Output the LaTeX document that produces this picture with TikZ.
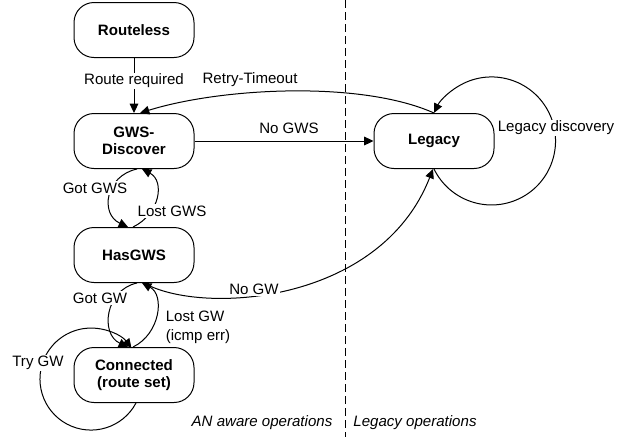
\documentclass[tikz,border=0pt]{standalone}
\usepackage{fontspec}
\setmainfont{Liberation Sans}
\usetikzlibrary{arrows.meta,calc}
\begin{document}
\begin{tikzpicture}[x=0.75pt,y=0.75pt,
  state/.style={draw,line width=0.75pt,rounded corners=15pt,minimum width=90pt,minimum height=41.25pt,inner sep=0pt,align=center,font=\fontsize{11.3}{12.8}\selectfont\bfseries},
  arr/.style={line width=0.75pt,-{Triangle[length=7pt,width=6.5pt]}},
  conn/.style={line width=0.75pt},
  lbl/.style={font=\fontsize{11.3}{14}\selectfont,inner sep=1pt},
  cover/.style={lbl,fill=white},
  zone/.style={font=\fontsize{11.3}{13}\selectfont\itshape,inner sep=1pt}]
\useasboundingbox (0,0) rectangle (634,-437);
% divider
\draw[line width=0.75pt,dash pattern=on 6pt off 3pt] (345.7,0) coordinate (dtop) -- (345.7,-437) coordinate (dbot);
% states
\node[state] (rl) at (134,-30) {Routeless};
\node[state] (gws) at (134,-141) {GWS-\\Discover};
\node[state] (has) at (134,-255) {HasGWS};
\node[state] (con) at (134,-375) {Connected\\(route set)};
\node[state] (leg) at (434,-141) {Legacy};
% transitions
\draw[arr] (rl.south) -- (gws.north);
\draw[arr] (leg.north) .. controls (360,-80) and (220,-88) .. ($(gws.north)+(6,0)$);
\draw[arr] (gws.east) -- (leg.west);
\draw[arr] (leg.south) arc[start angle=206,end angle=514,radius=48pt];
\draw[arr] ($(gws.south)+(3,0)$) .. controls ($(gws.south)+(-29,-7)$) and ($(has.north)+(-34,13)$) .. ($(has.north)+(-6,0)$);
\draw[arr] ($(has.north)+(-1,0)$) .. controls ($(has.north)+(26,13)$) and ($(gws.south)+(31,-12)$) .. ($(gws.south)+(8,0)$);
\draw[arr] ($(has.south)+(3,0)$) .. controls ($(has.south)+(-29,-7)$) and ($(con.north)+(-34,13)$) .. ($(con.north)+(-6,0)$);
\draw[arr] ($(con.north)+(-1,0)$) .. controls ($(con.north)+(26,13)$) and ($(has.south)+(31,-12)$) .. ($(has.south)+(8,0)$);
\draw[arr] ($(has.south)+(10,0)$) .. controls (200,-315) and (380,-305) .. ($(leg.south)+(-1,0)$);
\draw[arr] ($(con.south)+(2,0)$) arc[start angle=-28,end angle=-322.6,radius=38.25pt];
% labels
\node[cover] (l1) at (134,-81) {Route required};
\node[lbl] (l2) at (250,-80) {Retry-Timeout};
\node[lbl] (l3) at (289,-128) {No GWS};
\node[cover] (l4) at (556,-128) {Legacy discovery};
\node[cover] (l5) at (95,-188) {Got GWS};
\node[cover] (l6) at (172,-211) {Lost GWS};
\node[cover] (l7) at (100,-298) {Got GW};
\node[cover] (l8) at (254,-289) {No GW};
\node[lbl,align=left] (l9) at (198,-327) {Lost GW\\(icmp err)};
\node[cover] (l10) at (38,-363) {Try GW};
\node[zone] (z1) at (262,-423) {AN aware operations};
\node[zone] (z2) at (415,-423) {Legacy operations};
\end{tikzpicture}
\end{document}
